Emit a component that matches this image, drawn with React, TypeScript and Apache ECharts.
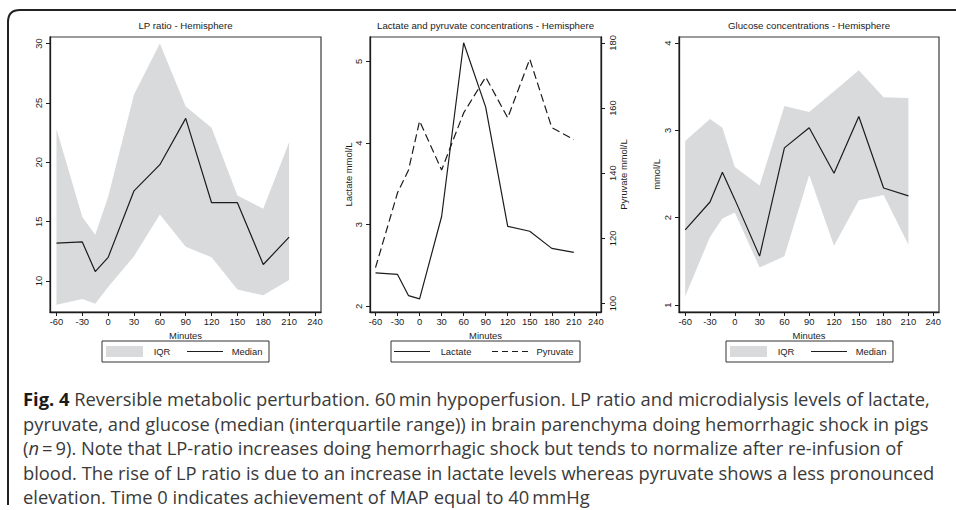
import React, { useEffect, useRef } from "react";
import * as echarts from "echarts";

// Sampling times (minutes relative to MAP reaching 40 mmHg)
const minutes = [-60, -30, -15, 0, 30, 60, 90, 120, 150, 180, 210];
const minuteTicks = [-60, -30, 0, 30, 60, 90, 120, 150, 180, 210, 240];

// LP ratio, hemisphere
const lpMedian = [13.2, 13.3, 10.8, 12.0, 17.6, 19.8, 23.7, 16.6, 16.6, 11.4, 13.7];
const lpUpper = [22.8, 15.4, 13.9, 17.1, 25.7, 30.0, 24.7, 22.9, 17.2, 16.1, 21.7];
const lpLower = [8.0, 8.5, 8.1, 9.5, 12.1, 15.6, 12.9, 12.0, 9.3, 8.8, 10.1];
const lpTicks = [10, 15, 20, 25, 30];

// Lactate (mmol/L) and pyruvate, hemisphere
const lactate = [2.41, 2.39, 2.13, 2.09, 3.1, 5.23, 4.44, 2.98, 2.92, 2.71, 2.66];
const pyruvate = [111, 134, 141, 156, 141, 158.5, 169.5, 157, 175, 154, 150.3];
const lactateTicks = [2, 3, 4, 5];
const pyruvateTicks = [100, 120, 140, 160, 180];

// Glucose (mmol/L), hemisphere
const glucoseMedian = [1.86, 2.18, 2.52, 2.21, 1.56, 2.8, 3.03, 2.51, 3.16, 2.34, 2.25];
const glucoseUpper = [2.88, 3.13, 3.03, 2.58, 2.37, 3.28, 3.21, 3.45, 3.69, 3.38, 3.37];
const glucoseLower = [1.1, 1.78, 1.99, 2.06, 1.43, 1.56, 2.49, 1.68, 2.2, 2.26, 1.69];
const glucoseTicks = [1, 2, 3, 4];

const panelTitles = [
  "LP ratio - Hemisphere",
  "Lactate and pyruvate concentrations - Hemisphere",
  "Glucose concentrations - Hemisphere",
];

const captionLines = [
  "{b|Fig. 4} Reversible metabolic perturbation. 60\u2009min hypoperfusion. LP ratio and microdialysis levels of lactate,",
  "pyruvate, and glucose (median (interquartile range)) in brain parenchyma doing hemorrhagic shock in pigs",
  "({i|n}\u2009=\u20099). Note that LP-ratio increases doing hemorrhagic shock but tends to normalize after re-infusion of",
  "blood. The rise of LP ratio is due to an increase in lactate levels whereas pyruvate shows a less pronounced",
  "elevation. Time 0 indicates achievement of MAP equal to 40\u2009mmHg",
];

const FONT = "'Liberation Sans', Arial, Helvetica, sans-serif";
const CAPTION_FONT = "'Open Sans', 'Noto Sans', sans-serif";
const CAPTION_SIZE = 18;
const CAPTION_LEFT = 23;
const CAPTION_RIGHT = 935; // right end of the widest caption line
const INK = "#1c1c1c";
const BAND = "#d9dadb";
const AXIS_FONT = 9.4;

echarts.graphic.registerShape(
  "figFrame",
  echarts.graphic.extendPath("M8 505 L8 22 Q8 10 20 10 L960 10", {})
);

const pairs = (ys: number[]) => minutes.map((m, i) => [m, ys[i]]);

function xAxisFor(gridIndex: number) {
  return {
    type: "value",
    gridIndex,
    min: -67.5,
    max: 247,
    name: "Minutes",
    nameLocation: "middle",
    nameGap: 10.5,
    nameTextStyle: { fontFamily: FONT, fontSize: AXIS_FONT, color: INK },
    axisLine: { show: true, onZero: false, lineStyle: { color: INK, width: 1.3 } },
    axisTick: { show: true, length: 4, customValues: minuteTicks, lineStyle: { color: INK, width: 1 } },
    axisLabel: { customValues: minuteTicks, margin: 5, fontFamily: FONT, fontSize: AXIS_FONT, color: INK },
    splitLine: { show: false },
  };
}

function yAxisFor(
  gridIndex: number,
  min: number,
  max: number,
  ticks: number[],
  position: "left" | "right",
  name: string,
  nameGap: number
) {
  return {
    type: "value",
    gridIndex,
    min,
    max,
    position,
    name,
    nameLocation: "middle",
    nameGap,
    nameTextStyle: { fontFamily: FONT, fontSize: AXIS_FONT, color: INK },
    axisLine: { show: true, onZero: false, lineStyle: { color: INK, width: 1.3 } },
    axisTick: { show: true, length: 4, customValues: ticks, lineStyle: { color: INK, width: 1 } },
    axisLabel: { customValues: ticks, rotate: 90, margin: 7, fontFamily: FONT, fontSize: AXIS_FONT, color: INK },
    splitLine: { show: false },
  };
}

// Interquartile band: one polygon through the upper quartiles and back along the lower ones
function bandRenderItem(params: any, api: any) {
  if (params.dataIndexInside !== 0) return null;
  const n = params.dataInsideLength;
  const upperPts: number[][] = [];
  const lowerPts: number[][] = [];
  for (let i = 0; i < n; i++) {
    const x = api.value(0, i);
    lowerPts.push(api.coord([x, api.value(1, i)]));
    upperPts.push(api.coord([x, api.value(2, i)]));
  }
  return {
    type: "polygon",
    shape: { points: upperPts.concat(lowerPts.reverse()) },
    style: { fill: BAND, stroke: null },
  };
}

function bandSeries(name: string, xAxisIndex: number, yAxisIndex: number, lower: number[], upper: number[]) {
  return {
    type: "custom",
    name,
    xAxisIndex,
    yAxisIndex,
    renderItem: bandRenderItem,
    dimensions: ["minute", "lower", "upper"],
    encode: { x: 0, y: [1, 2] },
    data: minutes.map((m, i) => [m, lower[i], upper[i]]),
    silent: true,
    z: 1,
  };
}

type LegendItem = { kind: "band" | "solid" | "dashed"; label: string; iconFrom: number; iconTo: number; textAt: number };

function legendGraphic(left: number, width: number, items: LegendItem[]) {
  const top = 341;
  const h = 21;
  const cy = top + h / 2;
  const children: any[] = [
    { type: "rect", shape: { x: left, y: top, width, height: h }, style: { fill: "#fff", stroke: "#333", lineWidth: 1 } },
  ];
  items.forEach((it) => {
    if (it.kind === "band") {
      children.push({
        type: "rect",
        shape: { x: left + it.iconFrom, y: cy - 5.5, width: it.iconTo - it.iconFrom, height: 11 },
        style: { fill: BAND },
      });
    } else {
      children.push({
        type: "line",
        shape: { x1: left + it.iconFrom, y1: cy, x2: left + it.iconTo, y2: cy },
        style: { stroke: INK, lineWidth: 1, lineDash: it.kind === "dashed" ? [6, 4] : null },
      });
    }
    children.push({
      type: "text",
      x: left + it.textAt,
      y: cy,
      style: { text: it.label, fontFamily: FONT, fontSize: AXIS_FONT, fill: INK, align: "center", verticalAlign: "middle" },
    });
  });
  return { type: "group", children };
}

// Width of a caption line in the caption font, honouring its bold / italic runs
function captionWidth(ctx: CanvasRenderingContext2D, line: string): number {
  const regular = `${CAPTION_SIZE}px ${CAPTION_FONT}`;
  const re = /\{(b|i)\|([^}]*)\}/g;
  let total = 0;
  let last = 0;
  let m: RegExpExecArray | null;
  while ((m = re.exec(line))) {
    ctx.font = regular;
    total += ctx.measureText(line.slice(last, m.index)).width;
    ctx.font = m[1] === "b" ? `bold ${CAPTION_SIZE}px ${CAPTION_FONT}` : `italic ${CAPTION_SIZE}px ${CAPTION_FONT}`;
    total += ctx.measureText(m[2]).width;
    last = re.lastIndex;
  }
  ctx.font = regular;
  total += ctx.measureText(line.slice(last)).width;
  return total;
}

// One horizontal compression for the whole caption, set by its widest line
function captionScale(): number {
  const ctx = document.createElement("canvas").getContext("2d");
  if (!ctx) return 0.83;
  const widest = Math.max(...captionLines.map((l) => captionWidth(ctx, l)));
  return widest > 0 ? (CAPTION_RIGHT - CAPTION_LEFT) / widest : 0.83;
}

export default function App() {
  const ref = useRef<HTMLDivElement>(null);

  useEffect(() => {
    if (!ref.current) return;
    const chart = echarts.init(ref.current, undefined, { renderer: "svg" });
    const sx = captionScale();

    const grids = [
      { left: 50, top: 37, width: 271, height: 275 },
      { left: 370, top: 37, width: 231, height: 275 },
      { left: 679, top: 37, width: 260, height: 275 },
    ].map((g) => ({ ...g, show: true, borderColor: "#3a3a3a", borderWidth: 1.2, backgroundColor: "transparent" }));

    const titleCenters = [185.5, 485.5, 809];

    const option: any = {
      animation: false,
      backgroundColor: "#ffffff",
      grid: grids,
      xAxis: [xAxisFor(0), xAxisFor(1), xAxisFor(2)],
      yAxis: [
        yAxisFor(0, 7.4, 30.55, lpTicks, "left", "", 20),
        yAxisFor(1, 1.93, 5.3, lactateTicks, "left", "Lactate mmol/L", 17),
        yAxisFor(1, 97.4, 181.8, pyruvateTicks, "right", "Pyruvate mmol/L", 18),
        yAxisFor(2, 0.92, 4.07, glucoseTicks, "left", "mmol/L", 18),
      ],
      series: [
        bandSeries("IQR", 0, 0, lpLower, lpUpper),
        {
          type: "line",
          name: "Median",
          xAxisIndex: 0,
          yAxisIndex: 0,
          data: pairs(lpMedian),
          symbol: "none",
          lineStyle: { color: INK, width: 1.2 },
          z: 3,
        },
        {
          type: "line",
          name: "Lactate",
          xAxisIndex: 1,
          yAxisIndex: 1,
          data: pairs(lactate),
          symbol: "none",
          lineStyle: { color: INK, width: 1.2 },
          z: 3,
        },
        {
          type: "line",
          name: "Pyruvate",
          xAxisIndex: 1,
          yAxisIndex: 2,
          data: pairs(pyruvate),
          symbol: "none",
          lineStyle: { color: INK, width: 1.2, type: [8, 4] },
          z: 3,
        },
        bandSeries("Glucose IQR", 2, 3, glucoseLower, glucoseUpper),
        {
          type: "line",
          name: "Glucose median",
          xAxisIndex: 2,
          yAxisIndex: 3,
          data: pairs(glucoseMedian),
          symbol: "none",
          lineStyle: { color: INK, width: 1.2 },
          z: 3,
        },
      ],
      graphic: [
        { type: "figFrame", x: 0, y: 0, style: { fill: "none", stroke: "#222", lineWidth: 2 } },
        ...panelTitles.map((t, i) => ({
          type: "text",
          x: titleCenters[i],
          y: 25,
          style: { text: t, fontFamily: FONT, fontSize: 9.7, fill: INK, align: "center", verticalAlign: "middle" },
        })),
        legendGraphic(102, 167, [
          { kind: "band", label: "IQR", iconFrom: 4, iconTo: 41, textAt: 60 },
          { kind: "solid", label: "Median", iconFrom: 85, iconTo: 121, textAt: 145 },
        ]),
        legendGraphic(391, 189, [
          { kind: "solid", label: "Lactate", iconFrom: 3, iconTo: 39, textAt: 65 },
          { kind: "dashed", label: "Pyruvate", iconFrom: 101, iconTo: 141, textAt: 164 },
        ]),
        legendGraphic(726, 167, [
          { kind: "band", label: "IQR", iconFrom: 4, iconTo: 41, textAt: 60 },
          { kind: "solid", label: "Median", iconFrom: 85, iconTo: 121, textAt: 145 },
        ]),
        ...captionLines.map((line, i) => ({
          type: "text",
          x: CAPTION_LEFT,
          y: 399 + i * 24.6,
          scaleX: sx,
          style: {
            text: line,
            fontFamily: CAPTION_FONT,
            fontSize: CAPTION_SIZE,
            fill: "#3a3a3a",
            align: "left",
            verticalAlign: "middle",
            rich: {
              b: { fontFamily: CAPTION_FONT, fontSize: CAPTION_SIZE, fontWeight: "bold", fill: "#1a1a1a" },
              i: { fontFamily: CAPTION_FONT, fontSize: CAPTION_SIZE, fontStyle: "italic", fill: "#3a3a3a" },
            },
          },
        })),
      ],
    };

    chart.setOption(option);
    return () => chart.dispose();
  }, []);

  return (
    <div
      ref={ref}
      style={{ position: "fixed", left: 0, top: 0, width: 956, height: 510, background: "#fff" }}
    />
  );
}
